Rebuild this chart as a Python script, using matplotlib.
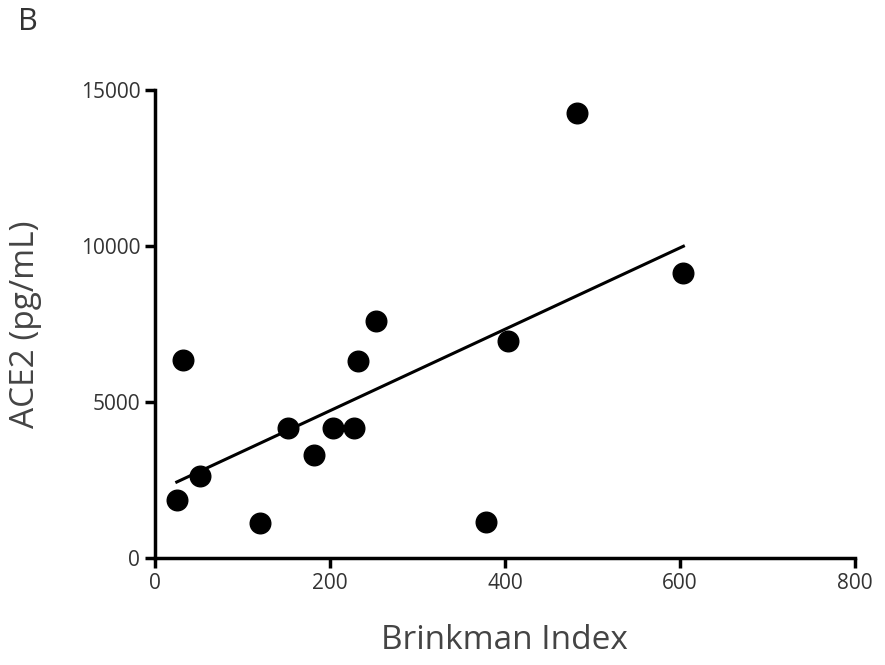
import matplotlib
matplotlib.use("Agg")
import matplotlib.pyplot as plt
import numpy as np

brinkman = np.array([25, 32, 52, 120, 152, 182, 204, 228, 232, 253, 378, 404, 482, 604])
ace2 = np.array([1860, 6350, 2630, 1120, 4170, 3300, 4170, 4170, 6310, 7600, 1150, 6950, 14260, 9130])

plt.rcParams['font.family'] = ['Open Sans', 'DejaVu Sans']

fig = plt.figure(figsize=(8.85, 6.65), dpi=100)
ax = fig.add_axes([0.175, 0.161, 0.791, 0.704])

ax.scatter(brinkman, ace2, s=220, color='black', zorder=3, clip_on=False)

slope, intercept = np.polyfit(brinkman, ace2, 1)
xs = np.array([brinkman.min(), brinkman.max()])
ax.plot(xs, slope * xs + intercept, color='black', lw=2.2)

ax.set_xlim(0, 800)
ax.set_ylim(0, 15000)
ax.set_xticks([0, 200, 400, 600, 800])
ax.set_yticks([0, 5000, 10000, 15000])
for s in ['top', 'right']:
    ax.spines[s].set_visible(False)
for s in ['left', 'bottom']:
    ax.spines[s].set_linewidth(2.5)
ax.tick_params(width=2.5, length=7, labelsize=15, color='black', labelcolor='#333333')

ax.set_xlabel('Brinkman Index', fontsize=24, color='#444444', labelpad=22)
ax.set_ylabel('ACE2 (pg/mL)', fontsize=24, color='#444444', labelpad=28)
fig.text(0.02, 0.955, 'B', fontsize=22, color='#333333')

fig.savefig('out.png', dpi=100)
